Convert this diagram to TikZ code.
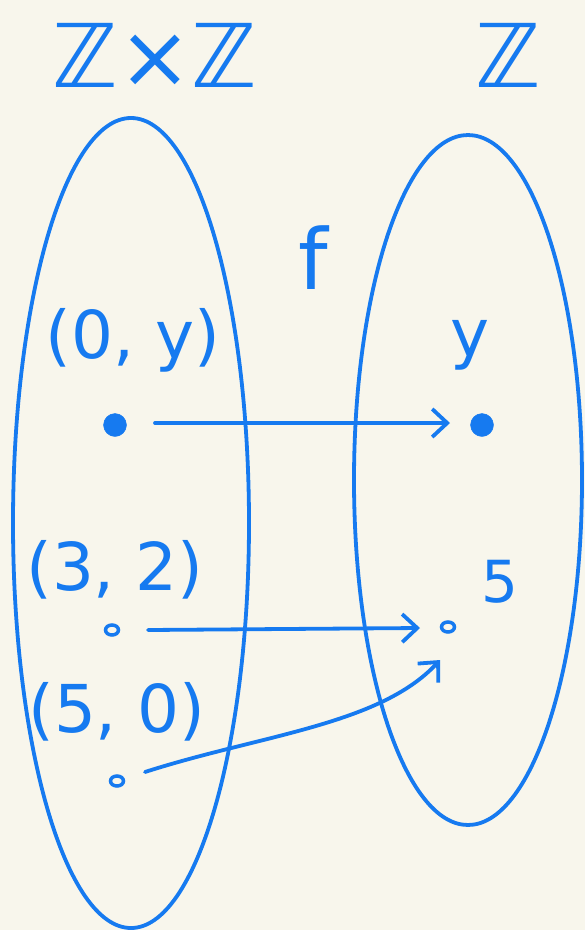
\documentclass[tikz,border=0pt]{standalone}
\usepackage{fontspec}
\setmainfont{DejaVu Sans}
\usetikzlibrary{arrows.meta,shapes.geometric}
\definecolor{bgc}{RGB}{248,246,236}
\definecolor{pen}{RGB}{22,122,240}
\tikzset{
  ink/.style={draw=pen,line width=3.8pt,line cap=round,line join=round},
  lbl/.style={text=pen,inner sep=0pt,font=\fontsize{66}{70}\selectfont},
  bigdot/.style={circle,fill=pen,draw=pen,minimum size=23pt,inner sep=0pt},
  smalldot/.style={ellipse,draw=pen,line width=3.5pt,minimum width=13pt,minimum height=10pt,inner sep=0pt},
  arr/.style={ink,-{Straight Barb[length=15pt,width=28pt,line width=3.8pt]}}
}
\begin{document}
\begin{tikzpicture}[x=1pt,y=-1pt]
\fill[bgc] (0,0) rectangle (585,930);
\useasboundingbox (0,0) rectangle (585,930);
% set labels
\node[lbl,font=\fontsize{88}{90}\selectfont] (zz) at (155,55) {ℤ×ℤ};
\node[lbl,font=\fontsize{88}{90}\selectfont] (z) at (508,55) {ℤ};
% ovals
\draw[ink] (131,523) ellipse [x radius=118,y radius=405];
\draw[ink] (468,480) ellipse [x radius=114,y radius=345];
% function label
\node[lbl,font=\fontsize{84}{88}\selectfont] (f) at (313,258) {f};
% elements
\node[lbl] (p0y) at (133,340) {(0, y)};
\node[bigdot] (d0y) at (115,425) {};
\node[lbl] (y) at (470,345) {y};
\node[bigdot] (dy) at (482,425) {};
\node[lbl] (p32) at (115,570) {(3, 2)};
\node[smalldot] (d32) at (112,630) {};
\node[lbl,font=\fontsize{58}{60}\selectfont] (five) at (500,582) {5};
\node[smalldot] (d5) at (448,627) {};
\node[lbl] (p50) at (117,712) {(5, 0)};
\node[smalldot] (d50) at (117,781) {};
% arrows
\coordinate (a1s) at (155,423);
\coordinate (a1e) at (450,423);
\coordinate (a2s) at (148,630);
\coordinate (a2e) at (420,628);
\coordinate (a3s) at (145,772);
\coordinate (a3e) at (440,660);
\draw[arr] (a1s) -- (a1e);
\draw[arr] (a2s) -- (a2e);
\draw[arr] (a3s) .. controls (260,735) and (380,725) .. (a3e);
\end{tikzpicture}
\end{document}
